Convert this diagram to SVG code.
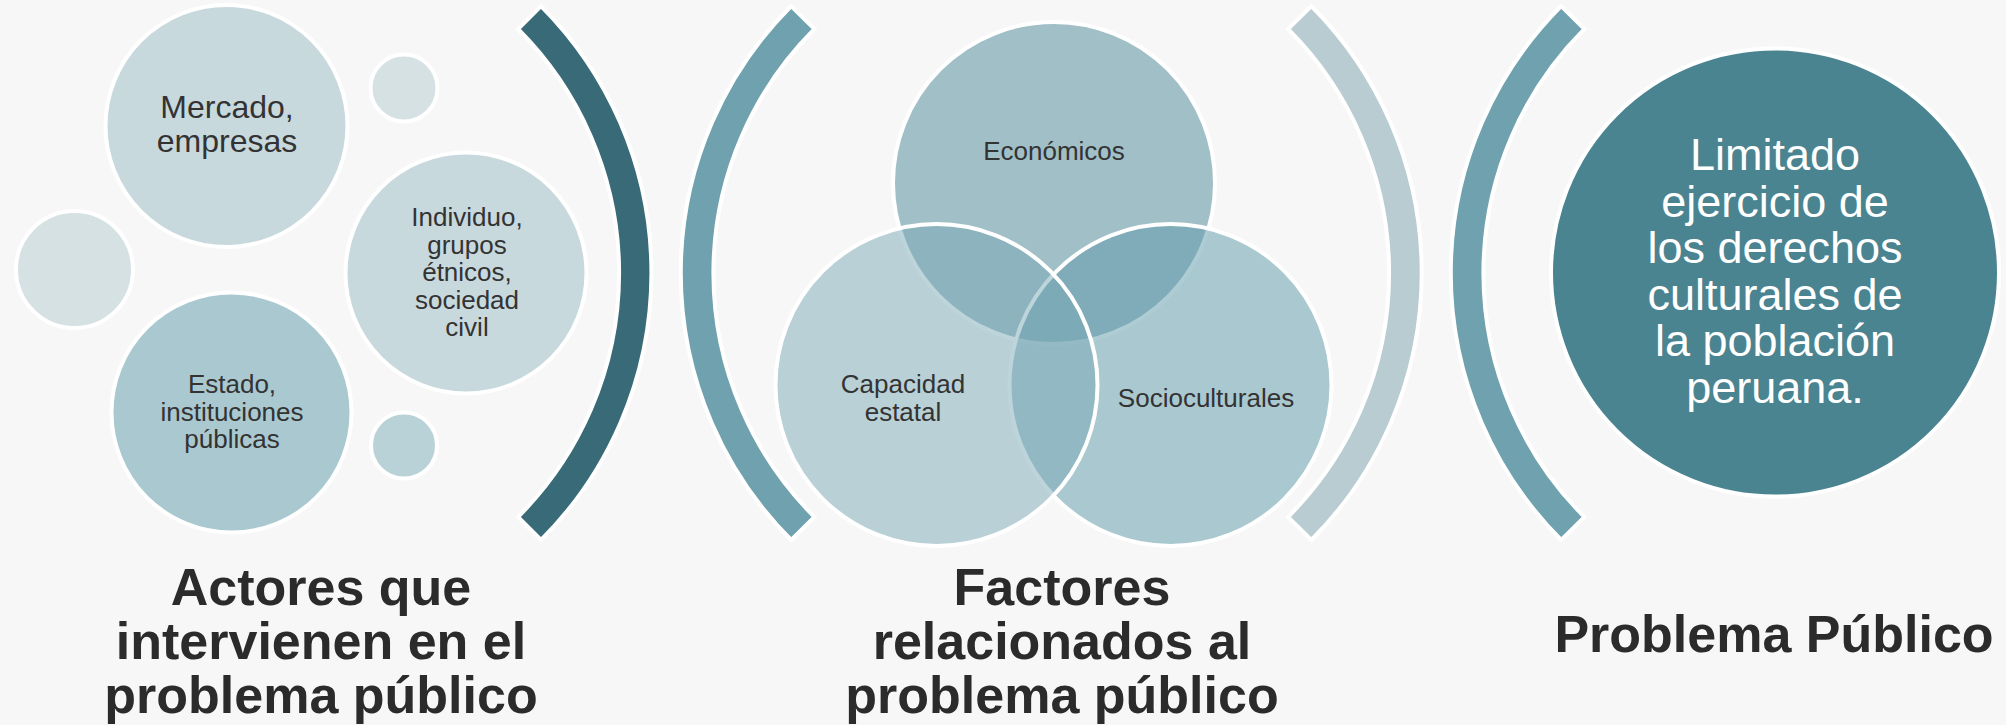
<svg xmlns="http://www.w3.org/2000/svg" width="2006" height="725" viewBox="0 0 2006 725">
<style>
.bg{fill:#f7f7f7}
.c{stroke:#ffffff;stroke-width:4}
.arc{stroke:#ffffff;stroke-width:4;stroke-linejoin:miter}
.v{stroke:#ffffff;stroke-width:4;fill-opacity:0.5}
.t{font-family:"Liberation Sans",Arial,sans-serif;fill:#333333;text-anchor:middle}
.s26{font-size:26px}
.s32{font-size:32px}
.w{font-family:"Liberation Sans",Arial,sans-serif;fill:#ffffff;text-anchor:middle;font-size:45px}
.h{font-family:"Liberation Sans",Arial,sans-serif;fill:#2b2b2b;text-anchor:middle;font-size:52px;font-weight:bold}
</style>
<rect class="bg" x="0" y="0" width="2006" height="725"/>

<g id="actores">
  <g id="mercado">
    <circle class="c" cx="226.5" cy="126" r="121" fill="#c8d9de"/>
    <text class="t s32" x="227" y="118">Mercado,</text>
    <text class="t s32" x="227" y="152">empresas</text>
  </g>
  <g id="bubble-top"><circle class="c" cx="404" cy="88" r="33.5" fill="#d6e1e4"/></g>
  <g id="bubble-left"><circle class="c" cx="74.5" cy="269.5" r="58.5" fill="#d6e1e4"/></g>
  <g id="individuo">
    <circle class="c" cx="466" cy="273" r="120.5" fill="#c8d9de"/>
    <text class="t s26" x="467" y="226">Individuo,</text>
    <text class="t s26" x="467" y="253.5">grupos</text>
    <text class="t s26" x="467" y="281">étnicos,</text>
    <text class="t s26" x="467" y="308.5">sociedad</text>
    <text class="t s26" x="467" y="336">civil</text>
  </g>
  <g id="estado">
    <circle class="c" cx="231.5" cy="412.5" r="120" fill="#aac8d0"/>
    <text class="t s26" x="232" y="393">Estado,</text>
    <text class="t s26" x="232" y="420.5">instituciones</text>
    <text class="t s26" x="232" y="448">públicas</text>
  </g>
  <g id="bubble-bottom"><circle class="c" cx="404" cy="445.5" r="33" fill="#b9d2d8"/></g>
</g>

<g id="connectors">
  <path id="arc1" class="arc" fill="#386a77" d="M541,6 A378,378 0 0 1 541,540 L518,517 A345,345 0 0 0 518,29 Z"/>
  <path id="arc2" class="arc" fill="#6fa1ae" d="M791.2,6 A378,378 0 0 0 791.2,540 L814.5,517 A345,345 0 0 1 814.5,29 Z"/>
  <path id="arc3" class="arc" fill="#b9ccd2" d="M1311.3,6 A378,378 0 0 1 1311.3,540 L1288,517 A345,345 0 0 0 1288,29 Z"/>
  <path id="arc4" class="arc" fill="#6fa1ae" d="M1561.2,6 A378,378 0 0 0 1561.2,540 L1584.5,517 A345,345 0 0 1 1584.5,29 Z"/>
</g>

<g id="factores">
  <g id="economicos">
    <circle class="v" cx="1054" cy="183" r="161" fill="#498797"/>
  </g>
  <g id="socioculturales">
    <circle class="v" cx="1170.5" cy="385" r="161" fill="#5d99a9"/>
  </g>
  <g id="capacidad">
    <circle class="v" cx="936.5" cy="385" r="161" fill="#79a9b5"/>
  </g>
  <text class="t s26" x="1054" y="160">Económicos</text>
  <text class="t s26" x="903" y="393.3">Capacidad</text>
  <text class="t s26" x="903" y="420.7">estatal</text>
  <text class="t s26" x="1206" y="406.7">Socioculturales</text>
</g>

<g id="problema">
  <circle class="c" cx="1775" cy="272.5" r="224" fill="#4a8491"/>
  <text class="w" x="1775" y="170">Limitado</text>
  <text class="w" x="1775" y="216.6">ejercicio de</text>
  <text class="w" x="1775" y="263.2">los derechos</text>
  <text class="w" x="1775" y="309.8">culturales de</text>
  <text class="w" x="1775" y="356.4">la población</text>
  <text class="w" x="1775" y="403">peruana.</text>
</g>

<g id="titulo-actores">
  <text class="h" x="321" y="605">Actores que</text>
  <text class="h" x="321" y="659">intervienen en el</text>
  <text class="h" x="321" y="713">problema público</text>
</g>
<g id="titulo-factores">
  <text class="h" x="1062" y="605">Factores</text>
  <text class="h" x="1062" y="659">relacionados al</text>
  <text class="h" x="1062" y="713">problema público</text>
</g>
<g id="titulo-problema">
  <text class="h" x="1774" y="652">Problema Público</text>
</g>
</svg>
